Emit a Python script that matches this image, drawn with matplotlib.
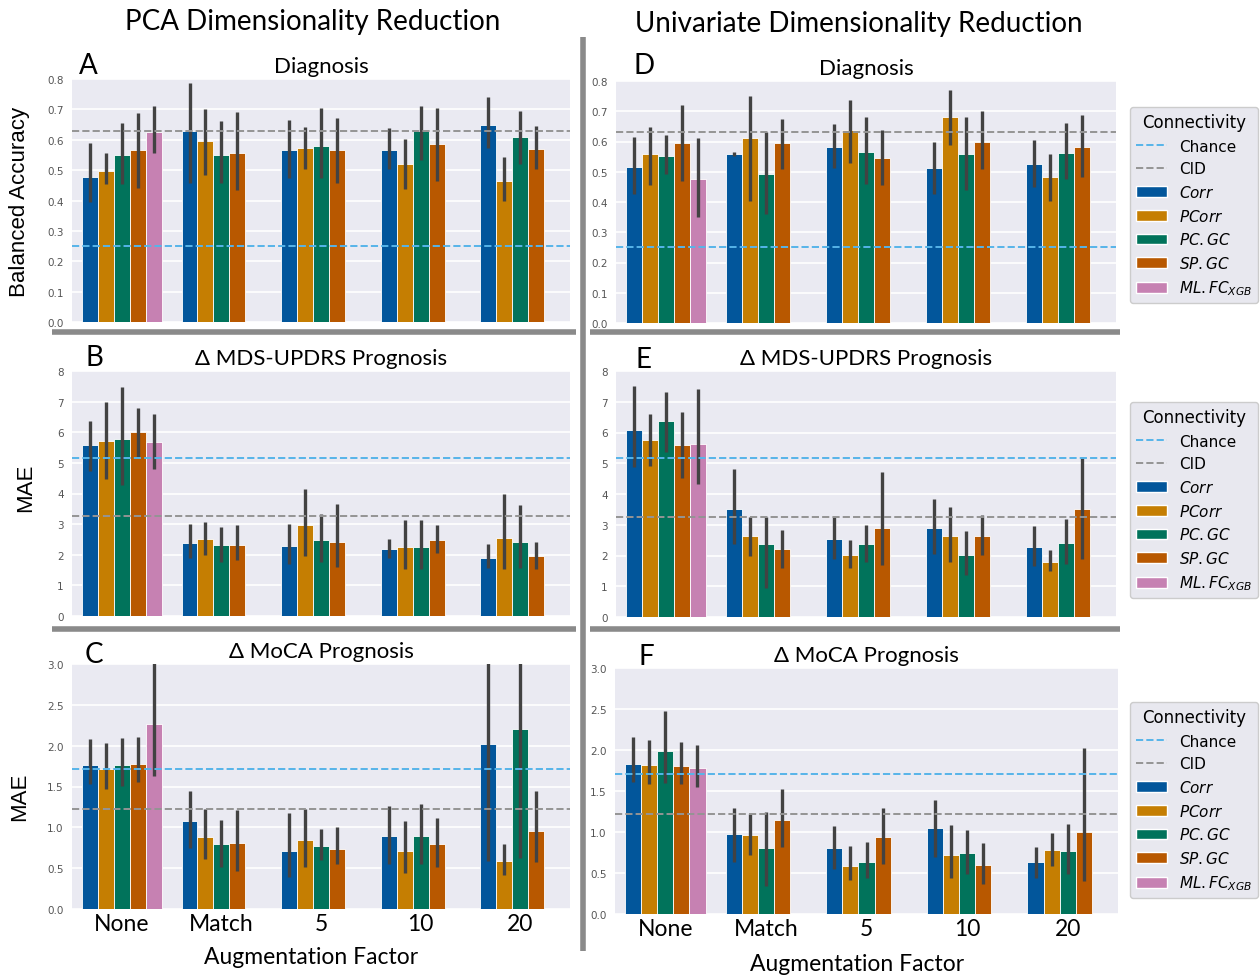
import numpy as np
import matplotlib
matplotlib.use('Agg')
import matplotlib.pyplot as plt
from matplotlib.lines import Line2D
from matplotlib.patches import Patch

W, H = 1260, 979
nan = np.nan

factors = ['None', 'Match', '5', '10', '20']
measures = [r'$Corr$', r'$PCorr$', r'$PC.GC$', r'$SP.GC$', r'$ML.FC_{XGB}$']
colors = ['#02569b', '#c57e02', '#01735b', '#b85800', '#c681b2']
chance_color = '#56b4e9'
cid_color = '#949494'

# rows = connectivity measure, cols = augmentation factor
# A: PCA, diagnosis (balanced accuracy)
a_mean = [[0.476, 0.630, 0.567, 0.567, 0.649],
          [0.498, 0.595, 0.573, 0.520, 0.465],
          [0.551, 0.551, 0.578, 0.630, 0.608],
          [0.566, 0.557, 0.567, 0.585, 0.571],
          [0.626, nan, nan, nan, nan]]
a_lo = [[0.396, 0.459, 0.475, 0.505, 0.573],
        [0.454, 0.484, 0.505, 0.437, 0.399],
        [0.454, 0.456, 0.473, 0.534, 0.520],
        [0.442, 0.434, 0.459, 0.465, 0.503],
        [0.555, nan, nan, nan, nan]]
a_hi = [[0.588, 0.786, 0.665, 0.638, 0.740],
        [0.558, 0.701, 0.641, 0.602, 0.542],
        [0.654, 0.663, 0.703, 0.711, 0.695],
        [0.687, 0.693, 0.673, 0.703, 0.646],
        [0.710, nan, nan, nan, nan]]

# D: univariate, diagnosis
d_mean = [[0.516, 0.558, 0.583, 0.514, 0.527],
          [0.560, 0.611, 0.637, 0.681, 0.481],
          [0.553, 0.494, 0.564, 0.560, 0.561],
          [0.594, 0.596, 0.545, 0.600, 0.583],
          [0.477, nan, nan, nan, nan]]
d_lo = [[0.428, 0.552, 0.514, 0.428, 0.450],
        [0.455, 0.403, 0.530, 0.590, 0.404],
        [0.491, 0.360, 0.461, 0.440, 0.475],
        [0.470, 0.508, 0.457, 0.508, 0.484],
        [0.349, nan, nan, nan, nan]]
d_hi = [[0.615, 0.565, 0.659, 0.600, 0.604],
        [0.648, 0.752, 0.738, 0.770, 0.558],
        [0.623, 0.631, 0.681, 0.681, 0.662],
        [0.721, 0.673, 0.637, 0.701, 0.686],
        [0.611, nan, nan, nan, nan]]

# B: PCA, delta MDS-UPDRS (MAE)
b_mean = [[5.57, 2.39, 2.29, 2.20, 1.90],
          [5.71, 2.50, 2.97, 2.25, 2.56],
          [5.79, 2.32, 2.48, 2.26, 2.42],
          [6.01, 2.32, 2.42, 2.49, 1.96],
          [5.68, nan, nan, nan, nan]]
b_lo = [[4.73, 1.88, 1.69, 1.90, 1.56],
        [4.46, 1.99, 1.96, 1.55, 1.55],
        [4.27, 1.76, 1.76, 1.55, 1.56],
        [5.20, 1.83, 1.60, 2.07, 1.55],
        [4.79, nan, nan, nan, nan]]
b_hi = [[6.37, 2.99, 2.99, 2.50, 2.34],
        [7.00, 3.07, 4.16, 3.12, 4.00],
        [7.48, 2.91, 3.32, 3.12, 3.61],
        [6.79, 2.96, 3.67, 2.97, 2.43],
        [6.61, nan, nan, nan, nan]]

# E: univariate, delta MDS-UPDRS
e_mean = [[6.09, 3.51, 2.55, 2.88, 2.29],
          [5.75, 2.64, 2.01, 2.65, 1.80],
          [6.38, 2.37, 2.38, 2.02, 2.41],
          [5.60, 2.20, 2.91, 2.63, 3.52],
          [5.62, nan, nan, nan, nan]]
e_lo = [[4.88, 2.37, 1.89, 2.05, 1.67],
        [4.90, 1.97, 1.59, 1.79, 1.49],
        [5.36, 0.95, 1.79, 1.35, 1.73],
        [4.52, 1.59, 1.70, 2.02, 1.89],
        [4.32, nan, nan, nan, nan]]
e_hi = [[7.51, 4.80, 3.24, 3.83, 2.96],
        [6.59, 3.24, 2.52, 3.58, 2.17],
        [7.33, 3.24, 2.99, 2.81, 3.19],
        [6.67, 2.82, 4.71, 3.32, 5.20],
        [7.41, nan, nan, nan, nan]]

# C: PCA, delta MoCA
c_mean = [[1.76, 1.08, 0.71, 0.89, 2.02],
          [1.71, 0.88, 0.84, 0.71, 0.59],
          [1.76, 0.79, 0.77, 0.89, 2.21],
          [1.78, 0.81, 0.74, 0.79, 0.96],
          [2.27, nan, nan, nan, nan]]
c_lo = [[1.53, 0.75, 0.39, 0.55, 0.59],
        [1.47, 0.61, 0.51, 0.44, 0.42],
        [1.51, 0.52, 0.60, 0.55, 0.62],
        [1.55, 0.46, 0.55, 0.52, 0.57],
        [1.63, nan, nan, nan, nan]]
c_hi = [[2.08, 1.44, 1.17, 1.26, 3.30],
        [2.03, 1.22, 1.23, 1.08, 0.80],
        [2.10, 1.09, 0.98, 1.28, 3.30],
        [2.11, 1.21, 1.00, 1.11, 1.44],
        [3.30, nan, nan, nan, nan]]

# F: univariate, delta MoCA
f_mean = [[1.83, 0.97, 0.80, 1.05, 0.63],
          [1.82, 0.96, 0.59, 0.72, 0.78],
          [1.99, 0.80, 0.64, 0.74, 0.77],
          [1.81, 1.15, 0.94, 0.60, 1.00],
          [1.78, nan, nan, nan, nan]]
f_lo = [[1.61, 0.64, 0.55, 0.69, 0.44],
        [1.58, 0.72, 0.41, 0.44, 0.59],
        [1.60, 0.34, 0.44, 0.49, 0.49],
        [1.58, 0.82, 0.61, 0.36, 0.40],
        [1.55, nan, nan, nan, nan]]
f_hi = [[2.16, 1.29, 1.07, 1.39, 0.82],
        [2.12, 1.22, 0.83, 1.09, 0.99],
        [2.48, 1.25, 0.88, 1.03, 1.10],
        [2.10, 1.52, 1.29, 0.87, 2.03],
        [2.06, nan, nan, nan, nan]]

chance = {'diag': 0.25, 'updrs': 5.16, 'moca': 1.71}
cid = {'diag': 0.63, 'updrs': 3.25, 'moca': 1.22}
ylims = {'diag': (0.8, 0.1, '{:.1f}'), 'updrs': (8, 1, '{:.0f}'), 'moca': (3.0, 0.5, '{:.1f}')}

title_font = ['Lato', 'DejaVu Sans']

fig = plt.figure(figsize=(W / 100, H / 100), dpi=100)


def px_axes(x0, y0, x1, y1):
    return fig.add_axes([x0 / W, 1 - y1 / H, (x1 - x0) / W, (y1 - y0) / H])


def fx(x):
    return x / W


def fy(y):
    return 1 - y / H


def draw_panel(ax, mean, lo, hi, kind, show_x):
    ax.set_facecolor('#eaeaf2')
    for s in ax.spines.values():
        s.set_visible(False)
    n = len(measures)
    w = 0.8 / n
    for j in range(n):
        for i in range(len(factors)):
            m = mean[j][i]
            if np.isnan(m):
                continue
            x = i - 0.4 + w * (j + 0.5)
            ax.bar(x, m, width=w, color=colors[j], edgecolor='white',
                   linewidth=0.6, zorder=2)
            ax.vlines(x, lo[j][i], hi[j][i], color='#424242', lw=2.4, zorder=3)
    ax.axhline(chance[kind], color=chance_color, ls='--', lw=1.4, zorder=4)
    ax.axhline(cid[kind], color=cid_color, ls='--', lw=1.4, zorder=4)
    top, step, fmt = ylims[kind]
    ticks = np.arange(0, top + step / 2, step)
    ax.set_ylim(0, top)
    ax.set_yticks(ticks)
    ax.set_yticklabels([fmt.format(t) for t in ticks])
    ax.set_xlim(-0.5, len(factors) - 0.5)
    ax.grid(axis='y', color='white', lw=1.2, zorder=0)
    ax.set_axisbelow(True)
    ax.tick_params(axis='y', length=0, labelsize=7.5, labelcolor='#555555', pad=6)
    if show_x:
        ax.set_xticks(range(len(factors)))
        ax.set_xticklabels(factors, fontsize=16.5, family=title_font)
        ax.tick_params(axis='x', length=0, pad=3)
    else:
        ax.set_xticks([])


def add_legend(y_top):
    handles = [Line2D([], [], color=chance_color, ls='--', lw=1.4),
               Line2D([], [], color=cid_color, ls='--', lw=1.4)]
    handles += [Patch(facecolor=c, edgecolor='white') for c in colors]
    labels = ['Chance', 'CID'] + measures
    leg = fig.legend(handles, labels, title='Connectivity', loc='upper left',
                     bbox_to_anchor=(fx(1130), fy(y_top)), fontsize=11,
                     title_fontsize=12, frameon=True, fancybox=True,
                     borderaxespad=0)
    leg.get_frame().set_facecolor('#e6e6ee')
    leg.get_frame().set_edgecolor('#c8c8c8')
    leg.get_frame().set_alpha(0.9)


axA = px_axes(72, 80, 570, 323)
axB = px_axes(72, 372, 570, 617)
axC = px_axes(72, 665, 570, 910)
axD = px_axes(616, 82, 1116, 324)
axE = px_axes(616, 372, 1116, 618)
axF = px_axes(615, 669, 1118, 915)

draw_panel(axA, a_mean, a_lo, a_hi, 'diag', False)
draw_panel(axB, b_mean, b_lo, b_hi, 'updrs', False)
draw_panel(axC, c_mean, c_lo, c_hi, 'moca', True)
draw_panel(axD, d_mean, d_lo, d_hi, 'diag', False)
draw_panel(axE, e_mean, e_lo, e_hi, 'updrs', False)
draw_panel(axF, f_mean, f_lo, f_hi, 'moca', True)

for ax, t in [(axA, 'Diagnosis'), (axD, 'Diagnosis'),
              (axB, 'Δ MDS-UPDRS Prognosis'), (axE, 'Δ MDS-UPDRS Prognosis'),
              (axC, 'Δ MoCA Prognosis'), (axF, 'Δ MoCA Prognosis')]:
    ax.set_title(t, fontsize=16, family=title_font, pad=5)

for letter, x, y in [('A', 88, 66), ('B', 94, 358), ('C', 94, 655),
                     ('D', 644, 66), ('E', 644, 360), ('F', 646, 657)]:
    fig.text(fx(x), fy(y), letter, fontsize=20, family=title_font,
             ha='center', va='center')

fig.text(fx(20), fy(202), 'Balanced Accuracy', rotation=90, fontsize=16,
         family='Liberation Sans', ha='center', va='center')
fig.text(fx(26), fy(488), 'MAE', rotation=90, fontsize=16,
         family='Liberation Sans', ha='center', va='center')
fig.text(fx(20), fy(797), 'MAE', rotation=90, fontsize=16,
         family='Liberation Sans', ha='center', va='center')

fig.text(fx(311), fy(958), 'Augmentation Factor', fontsize=16.5,
         family=title_font, ha='center', va='center')
fig.text(fx(857), fy(965), 'Augmentation Factor', fontsize=16.5,
         family=title_font, ha='center', va='center')

fig.text(fx(313), fy(22), 'PCA Dimensionality Reduction', fontsize=20,
         family=title_font, ha='center', va='center')
fig.text(fx(859), fy(24), 'Univariate Dimensionality Reduction', fontsize=20,
         family=title_font, ha='center', va='center')

add_legend(108)
add_legend(403)
add_legend(703)

# panel separators
sep = dict(color='#8a8a8a', lw=4, solid_capstyle='butt')
fig.add_artist(Line2D([fx(583), fx(583)], [fy(38), fy(952)], **sep))
for y in (333, 630):
    fig.add_artist(Line2D([fx(52), fx(576)], [fy(y), fy(y)], **sep))
    fig.add_artist(Line2D([fx(590), fx(1120)], [fy(y), fy(y)], **sep))

plt.savefig('out.png', dpi=100)
